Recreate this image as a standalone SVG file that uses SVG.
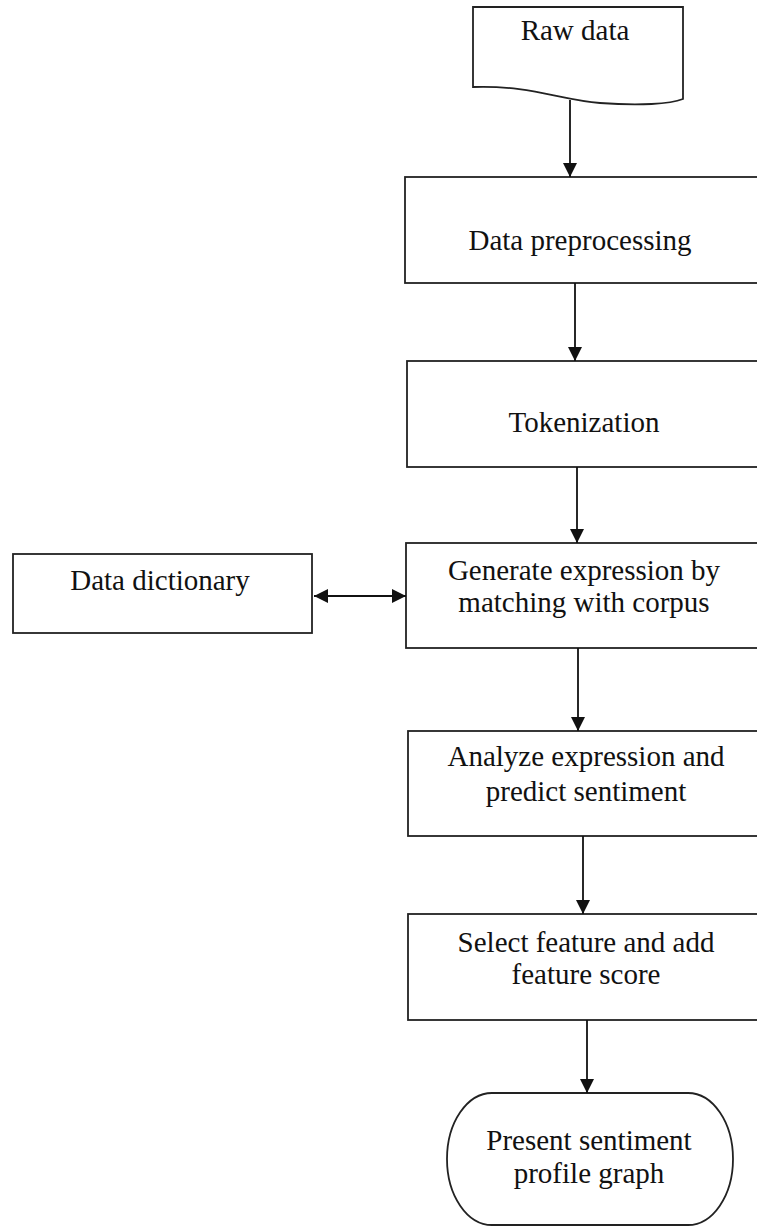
<svg xmlns="http://www.w3.org/2000/svg" width="757" height="1226" viewBox="0 0 757 1226">
<style>
.box{fill:#fff;stroke:#222;stroke-width:1.8}
.lbl{font-family:"Liberation Serif","Times New Roman",serif;font-size:29px;fill:#111;text-anchor:middle}
.con{stroke:#111;stroke-width:1.8;fill:none}
</style>
<defs>
<marker id="ah" markerUnits="userSpaceOnUse" markerWidth="14" markerHeight="16" refX="14" refY="7" orient="auto-start-reverse" viewBox="0 0 14 14">
<path d="M0,0 L14,7 L0,14 Z" fill="#111"/>
</marker>
</defs>
<rect width="757" height="1226" fill="#fff"/>
<g id="raw-data">
<path class="box" d="M473,7 H683 V99 C670,104 640,106 600,103 C560,100 530,85 473,87 Z"/>
<text class="lbl" x="575" y="40">Raw data</text>
</g>
<g id="data-preprocessing">
<rect class="box" x="405" y="177" width="370" height="106"/>
<text class="lbl" x="580" y="250">Data preprocessing</text>
</g>
<g id="tokenization">
<rect class="box" x="407" y="361" width="370" height="106"/>
<text class="lbl" x="584" y="432">Tokenization</text>
</g>
<g id="data-dictionary">
<rect class="box" x="13" y="554" width="299" height="79"/>
<text class="lbl" x="160" y="590">Data dictionary</text>
</g>
<g id="generate-expression">
<rect class="box" x="406" y="543" width="370" height="105"/>
<text class="lbl" x="584" y="580">Generate expression by</text>
<text class="lbl" x="584" y="612">matching with corpus</text>
</g>
<g id="analyze-expression">
<rect class="box" x="408" y="731" width="370" height="105"/>
<text class="lbl" x="586" y="766">Analyze expression and</text>
<text class="lbl" x="586" y="801">predict sentiment</text>
</g>
<g id="select-feature">
<rect class="box" x="408" y="914" width="370" height="106"/>
<text class="lbl" x="586" y="952">Select feature and add</text>
<text class="lbl" x="586" y="984">feature score</text>
</g>
<g id="present-graph">
<rect class="box" x="447" y="1093" width="286" height="132" rx="45" ry="66"/>
<text class="lbl" x="589" y="1150">Present sentiment</text>
<text class="lbl" x="589" y="1183">profile graph</text>
</g>
<g id="connectors">
<line class="con" x1="570" y1="100" x2="570" y2="177" marker-end="url(#ah)"/>
<line class="con" x1="575" y1="283" x2="575" y2="361" marker-end="url(#ah)"/>
<line class="con" x1="577" y1="467" x2="577" y2="543" marker-end="url(#ah)"/>
<line class="con" x1="578" y1="648" x2="578" y2="731" marker-end="url(#ah)"/>
<line class="con" x1="583" y1="836" x2="583" y2="914" marker-end="url(#ah)"/>
<line class="con" x1="587" y1="1020" x2="587" y2="1093" marker-end="url(#ah)"/>
<line class="con" x1="314" y1="596" x2="406" y2="596" marker-start="url(#ah)" marker-end="url(#ah)"/>
</g>
</svg>
